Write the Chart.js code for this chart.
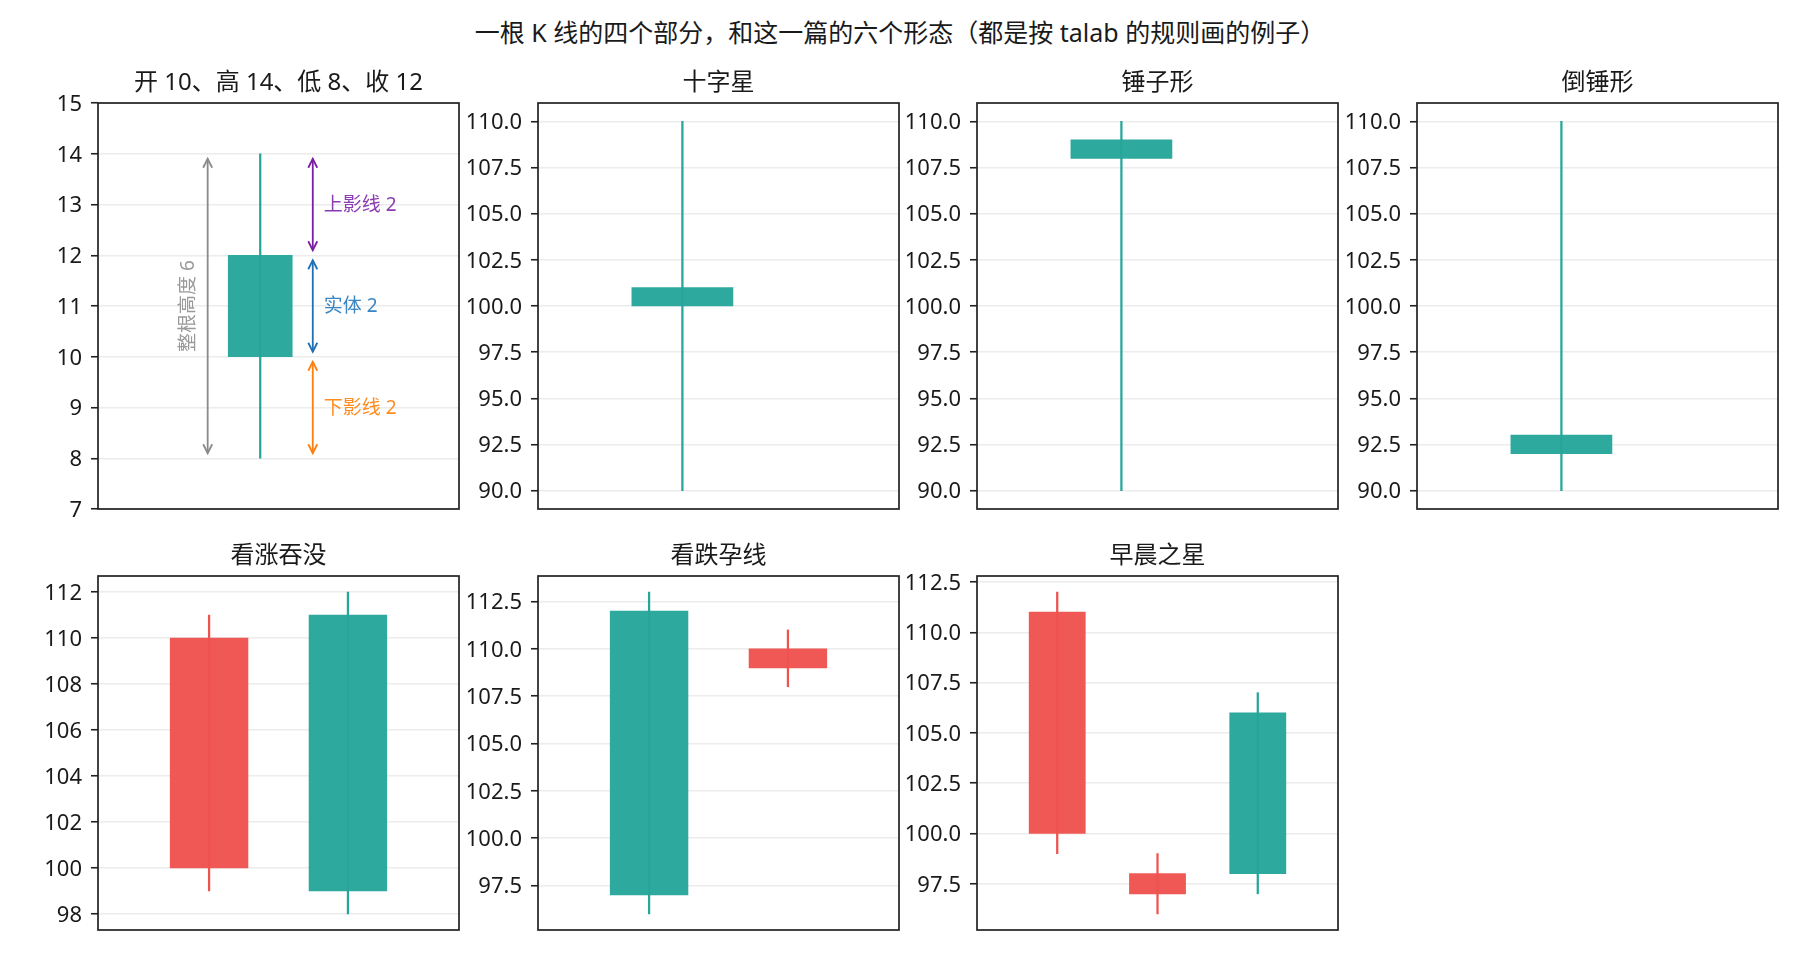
<!DOCTYPE html>
<html><head><meta charset="utf-8">
<script src="https://cdn.jsdelivr.net/npm/chart.js@4.4.1/dist/chart.umd.min.js"></script>
<style>
html,body{margin:0;padding:0;background:#fff;}
#page{position:relative;width:1800px;height:960px;overflow:hidden;background:#fff;}
canvas{position:absolute;}
#suptitle{position:absolute;left:0;width:1800px;top:17px;text-align:center;font-family:'Noto Sans','Noto Sans CJK SC',sans-serif;font-size:25px;color:#1a1a1a;line-height:30px;white-space:nowrap;}
</style></head><body>
<div id="page"><div id="suptitle">一根 K 线的四个部分，和这一篇的六个形态（都是按 talab 的规则画的例子）</div></div>
<script>
// ---------- data ----------
const panelTitles = ['十字星', '锤子形', '倒锤形', '看涨吞没', '看跌孕线', '早晨之星'];

const anatomyOpen = [10], anatomyHigh = [14], anatomyLow = [8], anatomyClose = [12];
const dojiOpen = [100], dojiHigh = [110], dojiLow = [90], dojiClose = [101];
const hammerOpen = [108], hammerHigh = [110], hammerLow = [90], hammerClose = [109];
const invHammerOpen = [92], invHammerHigh = [110], invHammerLow = [90], invHammerClose = [93];
const engulfOpen = [110, 99], engulfHigh = [111, 112], engulfLow = [99, 98], engulfClose = [100, 111];
const haramiOpen = [97, 110], haramiHigh = [113, 111], haramiLow = [96, 108], haramiClose = [112, 109];
const starOpen = [111, 98, 98], starHigh = [112, 99, 107], starLow = [99, 96, 97], starClose = [100, 97, 106];

const anatomyTicks = ['7', '8', '9', '10', '11', '12', '13', '14', '15'];
const singleTicks = ['90.0', '92.5', '95.0', '97.5', '100.0', '102.5', '105.0', '107.5', '110.0'];
const engulfTicks = ['98', '100', '102', '104', '106', '108', '110', '112'];
const haramiTicks = ['97.5', '100.0', '102.5', '105.0', '107.5', '110.0', '112.5'];
const starTicks = ['97.5', '100.0', '102.5', '105.0', '107.5', '110.0', '112.5'];

// ---------- styles / layout ----------
const FONT = "'Noto Sans', 'Noto Sans CJK SC', sans-serif";
const UP = '#26a69a', DOWN = '#ef5350';
const UP_FILL = 'rgba(38,166,154,0.97)', DOWN_FILL = 'rgba(239,83,80,0.97)';
const BODY_UNITS = 0.56;
const AXW = 95, TOPH = 50, RP = 14, BP = 26;
const COLS = [98, 538, 977, 1417], BOXW = 361;
const ROWS = [{top: 103, h: 406}, {top: 576, h: 354}];

const framePlugin = {
  id: 'frame',
  afterDraw(chart) {
    const {ctx, chartArea: a} = chart;
    ctx.save();
    ctx.strokeStyle = '#222';
    ctx.lineWidth = 1.7;
    ctx.strokeRect(a.left, a.top, a.right - a.left, a.bottom - a.top);
    ctx.restore();
  }
};

function drawArrow(ctx, x, yTop, yBot, color) {
  const s = 5, hl = 9, hw = 4.5;
  const t = yTop + s, b = yBot - s;
  ctx.strokeStyle = color;
  ctx.lineWidth = 1.8;
  ctx.lineJoin = 'miter';
  ctx.beginPath(); ctx.moveTo(x, t); ctx.lineTo(x, b); ctx.stroke();
  ctx.beginPath(); ctx.moveTo(x - hw, t + hl); ctx.lineTo(x, t); ctx.lineTo(x + hw, t + hl); ctx.stroke();
  ctx.beginPath(); ctx.moveTo(x - hw, b - hl); ctx.lineTo(x, b); ctx.lineTo(x + hw, b - hl); ctx.stroke();
}

const anatomyPlugin = {
  id: 'anatomy',
  afterDatasetsDraw(chart) {
    const {ctx, scales: {x, y}} = chart;
    const o = anatomyOpen[0], h = anatomyHigh[0], l = anatomyLow[0], c = anatomyClose[0];
    const top = Math.max(o, c), bot = Math.min(o, c);
    const items = [
      {dx: 0.46, a: h, b: top, color: '#7b1fa2', tcolor: '#8a3cb2', text: '上影线 ' + (h - top)},
      {dx: 0.46, a: top, b: bot, color: '#1f6fb4', tcolor: '#3a86c4', text: '实体 ' + (top - bot)},
      {dx: 0.46, a: bot, b: l, color: '#ff7f0e', tcolor: '#ff8c1f', text: '下影线 ' + (bot - l)}
    ];
    ctx.save();
    ctx.font = '19px ' + FONT;
    for (const it of items) {
      const px = x.getPixelForValue(it.dx);
      const pa = y.getPixelForValue(it.a), pb = y.getPixelForValue(it.b);
      drawArrow(ctx, px, pa, pb, it.color);
      ctx.fillStyle = it.tcolor;
      ctx.textAlign = 'left';
      ctx.textBaseline = 'middle';
      ctx.fillText(it.text, px + 11, (pa + pb) / 2 + 1);
    }
    const gx = x.getPixelForValue(-0.46);
    const ga = y.getPixelForValue(h), gb = y.getPixelForValue(l);
    drawArrow(ctx, gx, ga, gb, '#8a8a8a');
    ctx.translate(gx - 19, (ga + gb) / 2);
    ctx.rotate(-Math.PI / 2);
    ctx.fillStyle = '#9a9a9a';
    ctx.textAlign = 'center';
    ctx.textBaseline = 'middle';
    ctx.fillText('整根高度 ' + (h - l), 0, 0);
    ctx.restore();
  }
};

function candleChart(cfg) {
  const c = document.createElement('canvas');
  const cw = AXW + cfg.w + RP, ch = TOPH + cfg.h + BP;
  c.width = cw; c.height = ch;
  c.style.left = (cfg.left - AXW) + 'px';
  c.style.top = (cfg.top - TOPH) + 'px';
  c.style.width = cw + 'px';
  c.style.height = ch + 'px';
  document.getElementById('page').appendChild(c);

  const isUp = cfg.open.map((o, i) => cfg.close[i] >= o);
  const lo = Math.min(...cfg.low), hi = Math.max(...cfg.high);
  const pad = 0.05 * (hi - lo);
  const yMin = cfg.yMin !== undefined ? cfg.yMin : lo - pad;
  const yMax = cfg.yMax !== undefined ? cfg.yMax : hi + pad;
  const bodyW = BODY_UNITS * cfg.w / (cfg.xMax - cfg.xMin);
  const tickVals = cfg.ticks.map(Number);

  new Chart(c, {
    type: 'bar',
    data: {
      datasets: [
        {
          label: 'body',
          data: cfg.open.map((o, i) => ({x: i, y: [o, cfg.close[i]]})),
          backgroundColor: isUp.map(u => u ? UP_FILL : DOWN_FILL),
          barThickness: bodyW,
          grouped: false
        },
        {
          label: 'wick',
          data: cfg.low.map((l, i) => ({x: i, y: [l, cfg.high[i]]})),
          backgroundColor: isUp.map(u => u ? UP : DOWN),
          barThickness: 1.6,
          grouped: false
        }
      ]
    },
    options: {
      responsive: false,
      animation: false,
      devicePixelRatio: 1,
      layout: {padding: {left: 0, right: RP, top: 0, bottom: BP}},
      plugins: {
        legend: {display: false},
        tooltip: {enabled: false},
        title: {
          display: true, text: cfg.title, fullSize: false, color: '#1a1a1a',
          font: {family: FONT, size: 24, weight: 'normal', lineHeight: 1.2},
          padding: {top: 15.6, bottom: 5.6}
        }
      },
      scales: {
        x: {type: 'linear', min: cfg.xMin, max: cfg.xMax, display: false, offset: false},
        y: {
          type: 'linear', position: 'left', min: yMin, max: yMax,
          afterFit(s) { s.width = AXW; },
          afterBuildTicks(s) { s.ticks = tickVals.map(v => ({value: v})); },
          ticks: {
            callback: (v, i) => cfg.ticks[i],
            autoSkip: false, color: '#1a1a1a',
            font: {family: FONT, size: 22}, padding: 9, labelOffset: 1.5
          },
          grid: {color: '#ececec', lineWidth: 1.5, tickColor: '#222', tickWidth: 1.6, tickLength: 7, drawTicks: true},
          border: {display: false}
        }
      }
    },
    plugins: cfg.extra ? [cfg.extra, framePlugin] : [framePlugin]
  });
}

candleChart({
  left: COLS[0], top: ROWS[0].top, w: BOXW, h: ROWS[0].h,
  title: '开 ' + anatomyOpen[0] + '、高 ' + anatomyHigh[0] + '、低 ' + anatomyLow[0] + '、收 ' + anatomyClose[0],
  open: anatomyOpen, high: anatomyHigh, low: anatomyLow, close: anatomyClose,
  xMin: -1.42, xMax: 1.74, yMin: 7, yMax: 15, ticks: anatomyTicks, extra: anatomyPlugin
});
candleChart({
  left: COLS[1], top: ROWS[0].top, w: BOXW, h: ROWS[0].h, title: panelTitles[0],
  open: dojiOpen, high: dojiHigh, low: dojiLow, close: dojiClose,
  xMin: -0.8, xMax: 1.2, ticks: singleTicks
});
candleChart({
  left: COLS[2], top: ROWS[0].top, w: BOXW, h: ROWS[0].h, title: panelTitles[1],
  open: hammerOpen, high: hammerHigh, low: hammerLow, close: hammerClose,
  xMin: -0.8, xMax: 1.2, ticks: singleTicks
});
candleChart({
  left: COLS[3], top: ROWS[0].top, w: BOXW, h: ROWS[0].h, title: panelTitles[2],
  open: invHammerOpen, high: invHammerHigh, low: invHammerLow, close: invHammerClose,
  xMin: -0.8, xMax: 1.2, ticks: singleTicks
});
candleChart({
  left: COLS[0], top: ROWS[1].top, w: BOXW, h: ROWS[1].h, title: panelTitles[3],
  open: engulfOpen, high: engulfHigh, low: engulfLow, close: engulfClose,
  xMin: -0.8, xMax: 1.8, ticks: engulfTicks
});
candleChart({
  left: COLS[1], top: ROWS[1].top, w: BOXW, h: ROWS[1].h, title: panelTitles[4],
  open: haramiOpen, high: haramiHigh, low: haramiLow, close: haramiClose,
  xMin: -0.8, xMax: 1.8, ticks: haramiTicks
});
candleChart({
  left: COLS[2], top: ROWS[1].top, w: BOXW, h: ROWS[1].h, title: panelTitles[5],
  open: starOpen, high: starHigh, low: starLow, close: starClose,
  xMin: -0.8, xMax: 2.8, ticks: starTicks
});
</script>
</body></html>
